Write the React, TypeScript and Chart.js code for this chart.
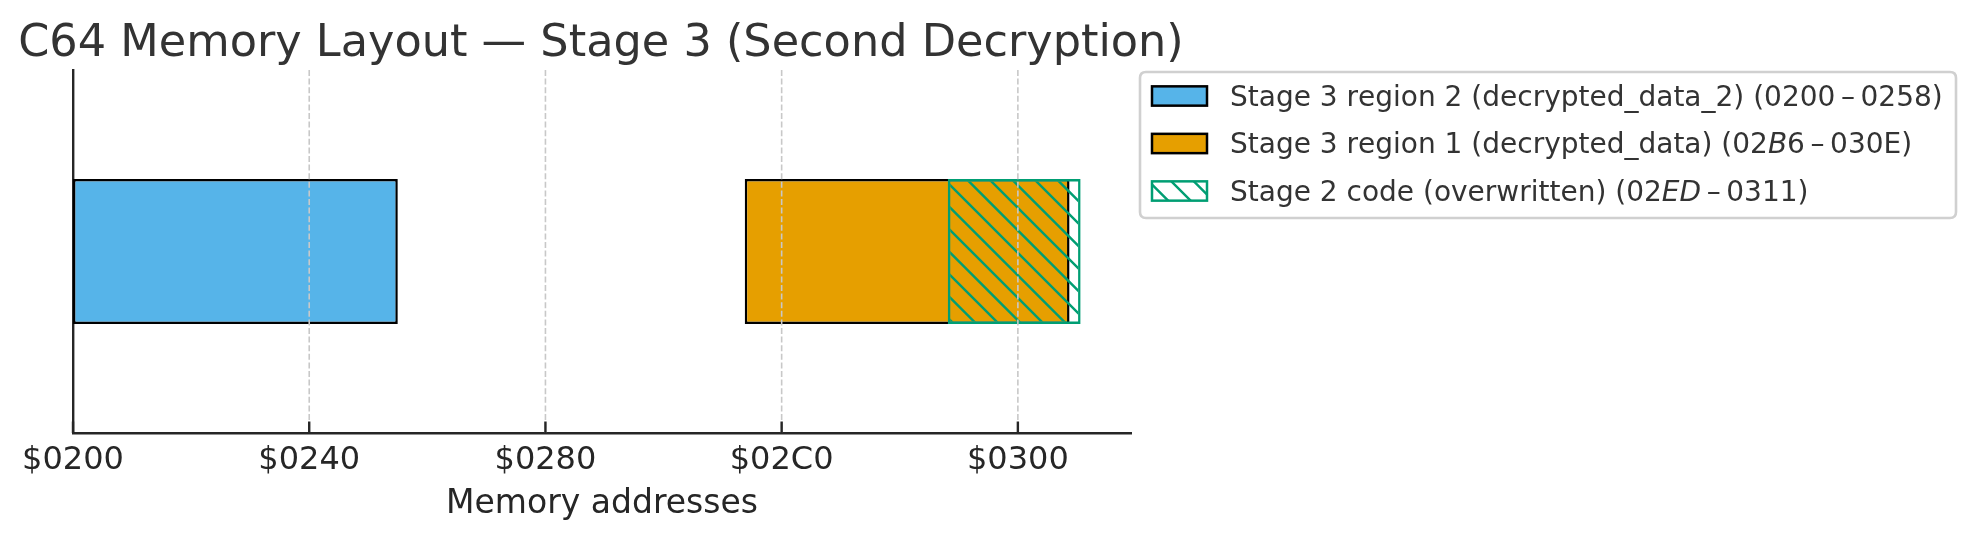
import React, { useEffect, useRef } from "react";
import { Chart, registerables } from "chart.js";

Chart.register(...registerables);

// ---------------- data ----------------
const categories = [""];
const seriesLabels = [
  "Stage 3 region 2 (decrypted_data_2) ($0200–$0258)",
  "Stage 3 region 1 (decrypted_data) ($02B6–$030E)",
  "Stage 2 code (overwritten) ($02ED–$0311)",
];
const region2Values: [number, number][] = [[0x200, 0x258]];
const region1Values: [number, number][] = [[0x2b6, 0x30e]];
const stage2Values: [number, number][] = [[0x2ed, 0x311]];
const xTickValues = [0x200, 0x240, 0x280, 0x2c0, 0x300];
const xMin = 0x200;
const xMax = 798.65;
const titleText = "C64 Memory Layout — Stage 3 (Second Decryption)";
const xAxisTitle = "Memory addresses";
// legend label pieces: [text, italic]
const legendPieces: [string, boolean][][] = [
  [["Stage 3 region 2 (decrypted_data_2) (0200\u2009–\u20090258)", false]],
  [
    ["Stage 3 region 1 (decrypted_data) (02", false],
    ["B", true],
    ["6\u2009–\u2009030E)", false],
  ],
  [
    ["Stage 2 code (overwritten) (02", false],
    ["ED", true],
    ["\u2009–\u20090311)", false],
  ],
];

const BLUE = "#56B4E9";
const ORANGE = "#E69F00";
const GREEN = "#009E73";
const FONT = '"DejaVu Sans", sans-serif';

function fmtHex(v: number) {
  return "$" + Math.round(v).toString(16).toUpperCase().padStart(4, "0");
}

function makeHatch(color: string): CanvasPattern | string {
  const size = 45;
  const c = document.createElement("canvas");
  c.width = size;
  c.height = size;
  const g = c.getContext("2d");
  if (!g) return "transparent";
  g.strokeStyle = color;
  g.lineWidth = 2.4;
  g.beginPath();
  for (let k = -3; k <= 3; k++) {
    const off = k * 22.5;
    g.moveTo(off - 5, -5);
    g.lineTo(off + size + 5, size + 5);
  }
  g.stroke();
  const p = g.createPattern(c, "repeat");
  return p || "transparent";
}

export default function App() {
  const ref = useRef<HTMLCanvasElement | null>(null);

  useEffect(() => {
    const canvas = ref.current;
    if (!canvas) return;
    const hatch = makeHatch(GREEN);

    const overlay = {
      id: "overlay",
      afterDatasetsDraw(chart: any) {
        const { ctx, chartArea } = chart;
        const x = chart.scales.x;
        ctx.save();
        // dashed vertical grid (drawn above bars, as in reference)
        ctx.strokeStyle = "#c8c8c8";
        ctx.lineWidth = 1.6;
        ctx.setLineDash([6, 2.6]);
        ctx.beginPath();
        xTickValues.forEach((v) => {
          if (v === xMin) return;
          const px = x.getPixelForValue(v);
          ctx.moveTo(px, chartArea.top);
          ctx.lineTo(px, chartArea.bottom);
        });
        ctx.stroke();
        ctx.setLineDash([]);
        // inward tick marks
        ctx.strokeStyle = "#262626";
        ctx.lineWidth = 2.4;
        ctx.beginPath();
        xTickValues.forEach((v) => {
          const px = x.getPixelForValue(v);
          ctx.moveTo(px, chartArea.bottom);
          ctx.lineTo(px, chartArea.bottom - 11.5);
        });
        ctx.stroke();
        ctx.restore();
      },
      afterDraw(chart: any) {
        const { ctx, chartArea } = chart;
        ctx.save();
        // title
        ctx.fillStyle = "#333333";
        ctx.font = `44.6px ${FONT}`;
        ctx.textAlign = "center";
        ctx.textBaseline = "alphabetic";
        ctx.fillText(titleText, (chartArea.left + chartArea.right) / 2 - 1, 55.5);

        // legend box
        const bx = 1140, by = 72, bw = 816, bh = 146, r = 6;
        ctx.beginPath();
        ctx.moveTo(bx + r, by);
        ctx.lineTo(bx + bw - r, by);
        ctx.quadraticCurveTo(bx + bw, by, bx + bw, by + r);
        ctx.lineTo(bx + bw, by + bh - r);
        ctx.quadraticCurveTo(bx + bw, by + bh, bx + bw - r, by + bh);
        ctx.lineTo(bx + r, by + bh);
        ctx.quadraticCurveTo(bx, by + bh, bx, by + bh - r);
        ctx.lineTo(bx, by + r);
        ctx.quadraticCurveTo(bx, by, bx + r, by);
        ctx.closePath();
        ctx.fillStyle = "rgba(255,255,255,0.8)";
        ctx.fill();
        ctx.strokeStyle = "#d0d0d0";
        ctx.lineWidth = 2.6;
        ctx.stroke();

        const rows = [96, 143.5, 191];
        const fills: (string | CanvasPattern)[] = [BLUE, ORANGE, hatch];
        const edges = ["#000000", "#000000", GREEN];
        rows.forEach((cy, i) => {
          const px = 1152, pw = 55, ph = 19.3;
          const py = cy - ph / 2;
          ctx.fillStyle = i === 2 ? "#ffffff" : (fills[i] as string);
          ctx.fillRect(px, py, pw, ph);
          if (i === 2) {
            ctx.fillStyle = fills[i] as any;
            ctx.fillRect(px, py, pw, ph);
          }
          ctx.strokeStyle = edges[i];
          ctx.lineWidth = 2.5;
          ctx.strokeRect(px, py, pw, ph);
          // text, drawn glyph by glyph with its own advance
          let tx = 1230;
          ctx.fillStyle = "#333333";
          ctx.textAlign = "left";
          ctx.textBaseline = "alphabetic";
          legendPieces[i].forEach(([txt, it]) => {
            ctx.font = `${it ? "italic " : ""}28px ${FONT}`;
            for (const ch of Array.from(txt)) {
              ctx.fillText(ch, tx, cy + 9.8);
              tx += ctx.measureText(ch).width;
            }
          });
        });
        ctx.restore();
      },
    };

    const chart = new Chart(canvas, {
      type: "bar",
      data: {
        labels: categories,
        datasets: [
          {
            label: seriesLabels[0],
            data: region2Values as any,
            backgroundColor: BLUE,
            borderColor: "#000000",
            borderWidth: 2.5,
            borderSkipped: false,
            order: 2,
          },
          {
            label: seriesLabels[1],
            data: region1Values as any,
            backgroundColor: ORANGE,
            borderColor: "#000000",
            borderWidth: 2.5,
            borderSkipped: false,
            order: 1,
          },
          {
            label: seriesLabels[2],
            data: stage2Values as any,
            backgroundColor: hatch as any,
            borderColor: GREEN,
            borderWidth: 2.5,
            borderSkipped: false,
            order: 0,
          },
        ],
      },
      options: {
        indexAxis: "y",
        animation: false,
        responsive: false,
        devicePixelRatio: 1,
        grouped: false,
        categoryPercentage: 1,
        barPercentage: 0.4,
        layout: { padding: { left: 73, top: 70, right: 844, bottom: 0 } },
        plugins: {
          legend: { display: false },
          title: { display: false },
          tooltip: { enabled: false },
        },
        scales: {
          x: {
            type: "linear",
            min: xMin,
            max: xMax,
            afterBuildTicks: (scale: any) => {
              scale.ticks = xTickValues.map((v) => ({ value: v }));
            },
            afterFit: (scale: any) => {
              scale.height = 107;
            },
            grid: { display: false, drawTicks: false },
            border: { display: true, color: "#262626", width: 2.4 },
            ticks: {
              padding: 8,
              color: "#262626",
              font: { family: FONT, size: 32 },
              maxRotation: 0,
              autoSkip: false,
              callback: (v: any) => fmtHex(Number(v)),
            },
            title: {
              display: true,
              text: xAxisTitle,
              color: "#262626",
              font: { family: FONT, size: 33 },
              padding: { top: 0, bottom: 16 },
            },
          },
          y: {
            type: "category",
            afterFit: (scale: any) => {
              scale.width = 0;
            },
            grid: { display: false, drawTicks: false },
            border: { display: true, color: "#262626", width: 2.4 },
            ticks: { display: false },
          },
        },
      } as any,
      plugins: [overlay],
    });
    return () => chart.destroy();
  }, []);

  return (
    <div style={{ position: "absolute", left: 0, top: 0, width: 1975, height: 540, background: "#ffffff" }}>
      <canvas ref={ref} width={1975} height={540} style={{ width: 1975, height: 540, display: "block" }} />
    </div>
  );
}
